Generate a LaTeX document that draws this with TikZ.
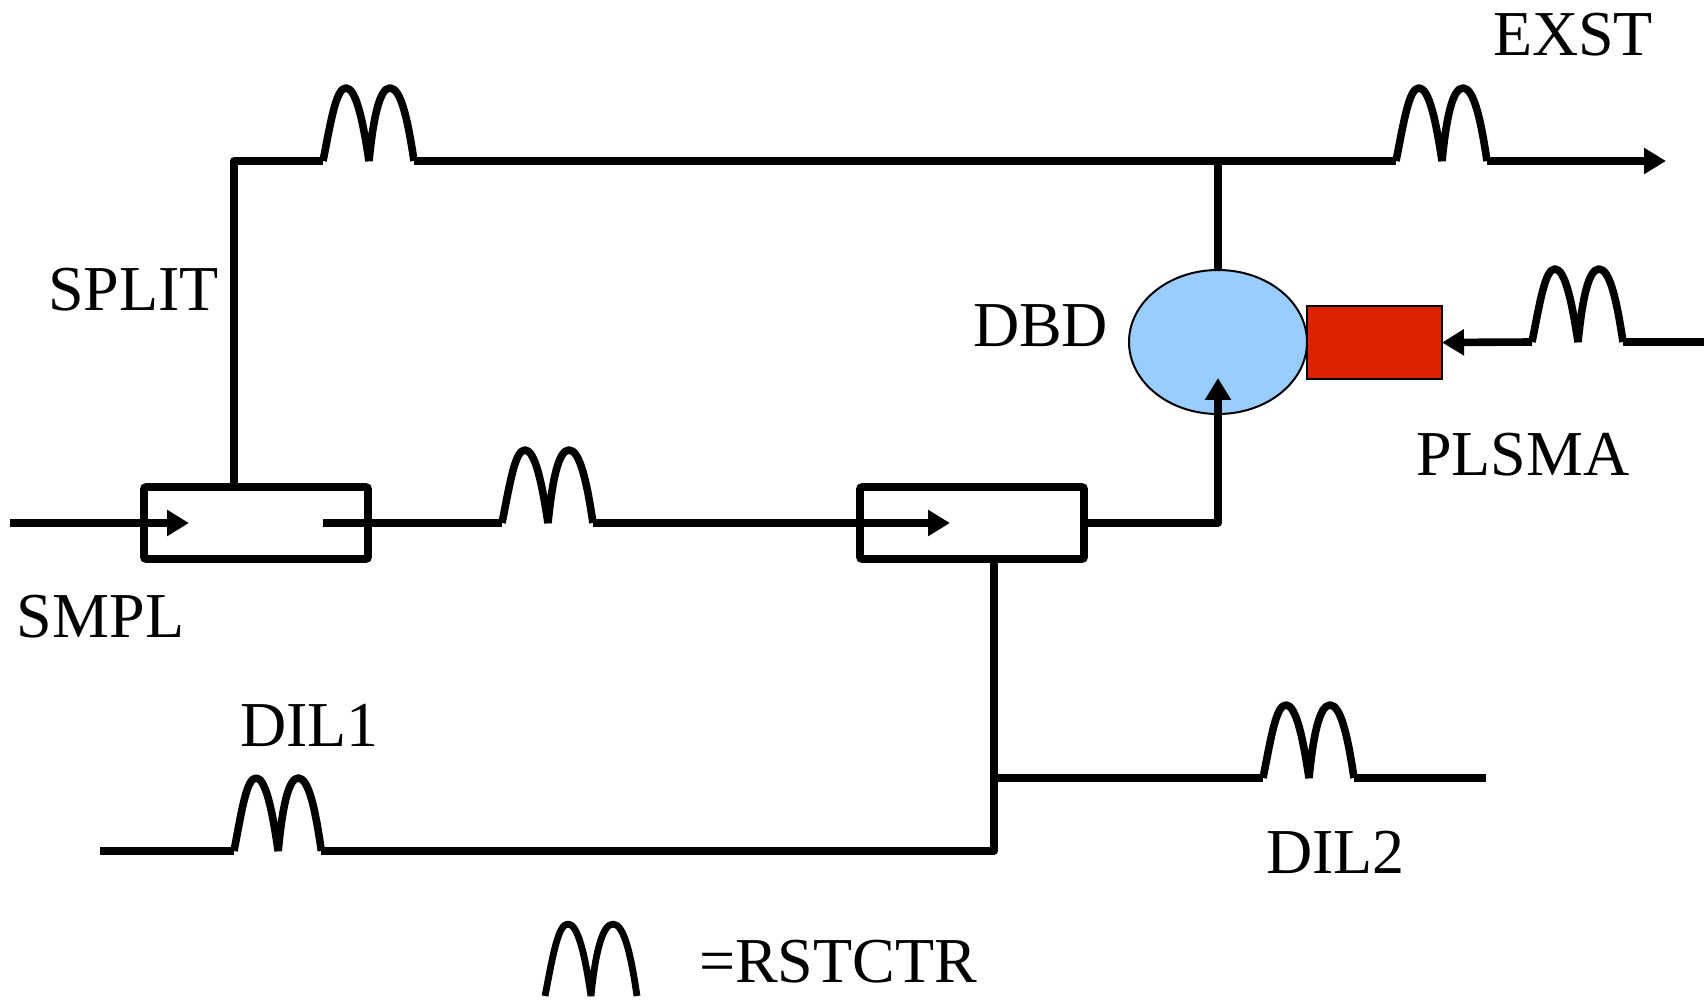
\documentclass[tikz,border=0pt]{standalone}
\usepackage{fontspec}
\setmainfont{Liberation Serif}
\usetikzlibrary{arrows.meta,shapes.geometric}
\definecolor{dbdblue}{HTML}{99CCFF}
\definecolor{plsred}{HTML}{DD2200}
\tikzset{
  x=0.5pt,y=-0.5pt,
  pipe/.style={line width=3.8pt,line join=round},
  hump/.style={line width=3.8pt,line join=bevel},
  flow/.style={pipe,-{Triangle[length=11pt,width=12.5pt]}},
  valvebox/.style={draw,line width=3.8pt,rounded corners=1pt,rectangle,minimum width=112pt,minimum height=36pt,inner sep=0pt,outer sep=0pt,fill=white},
  lab/.style={anchor=base west,inner sep=0pt,outer sep=0pt,font=\fontsize{32}{36}\selectfont},
  dbdshape/.style={draw,ellipse,line width=1pt,fill=dbdblue,minimum width=89pt,minimum height=72pt,inner sep=0pt,outer sep=0pt},
  plsshape/.style={draw,rectangle,line width=1pt,fill=plsred,minimum width=67.5pt,minimum height=36.5pt,inner sep=0pt,outer sep=0pt}
}
\newcommand{\rstctr}[4]{%
  \begin{scope}[shift={(#2,#3)},xscale=#4]
  \coordinate (#1-l) at (0,0);
  \coordinate (#1-r) at (91,0);
  \draw[hump] (0,0) .. controls (8,-40) and (13,-73) .. (23,-73)
    .. controls (33,-73) and (40,-40) .. (46,0)
    .. controls (50,-40) and (56,-73) .. (67,-73)
    .. controls (78,-73) and (85,-40) .. (91,0);
  \end{scope}
}
\begin{document}
\begin{tikzpicture}
\useasboundingbox (0,0) rectangle (1704,1000);
% valve boxes
\node[valvebox] (box1) at (256,523) {};
\node[valvebox] (box2) at (972,523) {};
% detector and plasma source
\node[dbdshape] (dbd) at (1218,342) {};
\node[plsshape] (pls) at (1374.5,342.5) {};
% restrictors
\rstctr{ra}{323}{161}{1}
\rstctr{rb}{1396}{161}{1}
\rstctr{rc}{1532}{342}{1}
\rstctr{rd}{502}{523}{1}
\rstctr{re}{234}{851}{0.96}
\rstctr{rf}{1263}{778}{1}
% free ends
\coordinate (smplin) at (10,523);
\coordinate (smpltip) at (189,523);
\coordinate (box1out) at (323,523);
\coordinate (box2tip) at (950,523);
\coordinate (exst) at (1666,161);
\coordinate (plsin) at (1704,342);
\coordinate (dil1in) at (100,851);
\coordinate (dil2in) at (1486,778);
\coordinate (corner) at (994,851);
\coordinate (tee) at (994,778);
\coordinate (splitc) at (234,161);
\coordinate (dbdtop) at (1218,161);
\coordinate (dbdtip) at (1218,378);
% connectors
\draw[flow] (smplin) -- (smpltip);
\draw[pipe] (box1out) -- (rd-l);
\draw[flow] (rd-r) -- (box2tip);
\draw[pipe] (splitc |- box1.north) -- (splitc) -- (ra-l);
\draw[pipe] (ra-r) -- (rb-l);
\draw[flow] (rb-r) -- (exst);
\draw[pipe] (dbdtop) -- (dbd.north);
\draw[flow] (box2.east) -- (dbdtop |- box2.east) -- (dbdtip);
\draw[pipe] (plsin) -- (rc-r);
\draw[flow] (rc-l) -- (pls.east);
\draw[pipe] (corner |- box2.south) -- (corner) -- (re-r);
\draw[pipe] (re-l) -- (dil1in);
\draw[pipe] (tee) -- (rf-l);
\draw[pipe] (rf-r) -- (dil2in);
% legend symbol
\draw[line width=3.4pt,line join=bevel] (545,996) .. controls (553,955) and (558,924) .. (568,924)
  .. controls (578,924) and (585,955) .. (591,996)
  .. controls (595,955) and (602,924) .. (613,924)
  .. controls (624,924) and (631,955) .. (637,996);
% labels
\node[lab] (lexst) at (1493,56) {EXST};
\node[lab] (lsplit) at (48,311) {SPLIT};
\node[lab] (ldbd) at (973,347) {DBD};
\node[lab] (lpls) at (1416,475) {PLSMA};
\node[lab] (lsmpl) at (17,637) {SMPL};
\node[lab] (ldila) at (240,746) {DIL1};
\node[lab] (ldilb) at (1266,873) {DIL2};
\node[lab] (lrst) at (699,982) {=RSTCTR};
\end{tikzpicture}
\end{document}
